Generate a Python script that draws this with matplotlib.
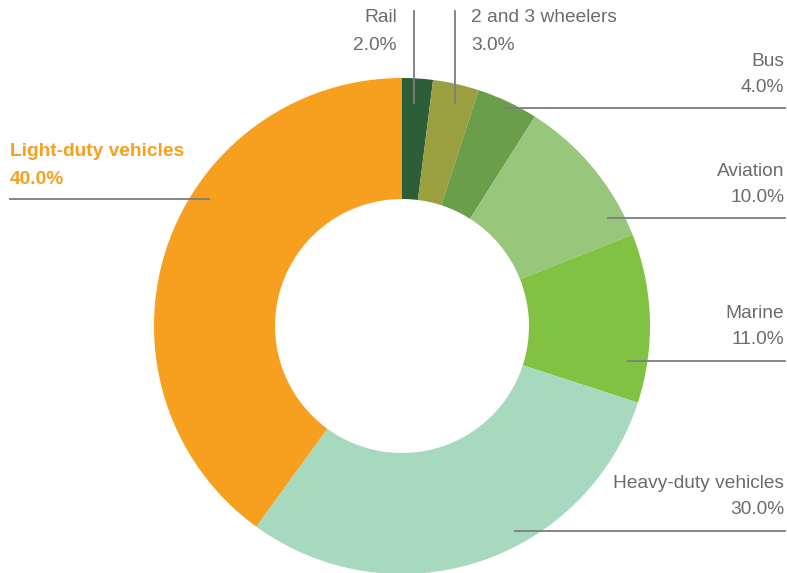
import matplotlib.pyplot as plt

# ── Data ────────────────────────────────────────────────────────────────
categories = ['Rail', '2 and 3 wheelers', 'Bus', 'Aviation', 'Marine',
              'Heavy-duty vehicles', 'Light-duty vehicles']
shares = [2.0, 3.0, 4.0, 10.0, 11.0, 30.0, 40.0]
colors = ['#2e5e38', '#9a9f3f', '#6a9e4a', '#98c67a', '#82c243',
          '#a7d9bf', '#f79f1e']

# ── Label layout (pixel coords, y downward) ─────────────────────────────
# (text x, ha, first line y, second line y, leader line x0, y0, x1, y1)
layout = {
    'Rail': (397, 'right', 18, 45, 414, 11, 414, 103),
    '2 and 3 wheelers': (471, 'left', 18, 45, 455, 11, 455, 103),
    'Bus': (784, 'right', 61, 88, 505, 108, 785, 108),
    'Aviation': (784, 'right', 172, 198, 608, 218, 785, 218),
    'Marine': (784, 'right', 314, 340, 628, 361, 785, 361),
    'Heavy-duty vehicles': (784, 'right', 484, 510, 515, 531, 785, 531),
    'Light-duty vehicles': (10, 'left', 152, 180, 10, 199, 209, 199),
}

plt.rcParams['font.family'] = ['Liberation Sans', 'DejaVu Sans']

fig = plt.figure(figsize=(7.87, 5.73), dpi=100)
ax = fig.add_axes([0, 0, 1, 1])

# y axis is flipped, so start at -90 and go "counterclockwise" to get clockwise from top
ax.pie(shares, colors=colors, startangle=-90, counterclock=True,
       center=(402, 326), radius=248,
       wedgeprops=dict(width=121, linewidth=0))

ax.set_xlim(0, 787)
ax.set_ylim(573, 0)
ax.set_aspect('equal')
ax.axis('off')

for cat, val in zip(categories, shares):
    tx, ha, y1, y2, lx0, ly0, lx1, ly1 = layout[cat]
    ax.plot([lx0, lx1], [ly0, ly1], color='#7d7d7d', linewidth=1.3, zorder=5)
    if cat == 'Light-duty vehicles':
        style = dict(color='#f79f1e', fontweight='bold')
    else:
        style = dict(color='#6b6b6b')
    ax.text(tx, y1, cat, ha=ha, va='center', fontsize=13.8, **style)
    ax.text(tx, y2, f'{val:.1f}%', ha=ha, va='center', fontsize=13.8, **style)

fig.savefig('out.png', dpi=100, facecolor='white')
